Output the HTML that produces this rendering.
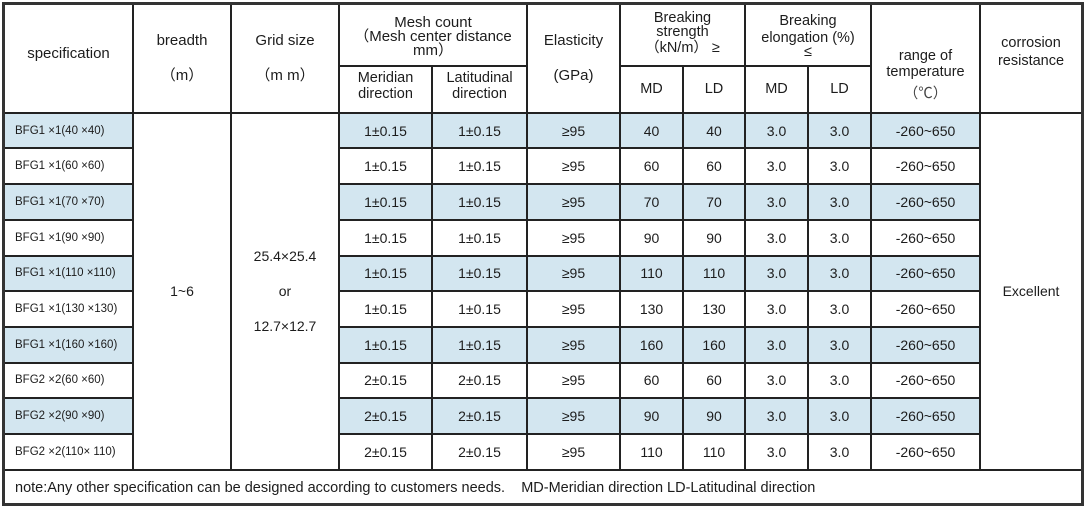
<!DOCTYPE html>
<html><head><meta charset="utf-8">
<style>
body{margin:0;width:1088px;height:510px;background:#fff;position:relative;overflow:hidden;font-family:"Liberation Sans","Noto Sans CJK SC",Arial,sans-serif;color:#1c1c1c}
.v{position:absolute;width:2px;background:#222}
.h{position:absolute;height:2px;background:#222}
.b{position:absolute;background:#d3e6f0}
.t{position:absolute;text-align:center;white-space:nowrap;height:20px;line-height:20px;font-size:15px}
.s{font-size:14.5px}
.r{position:absolute;left:0;width:1088px}
.r span{position:absolute;top:0;text-align:center;white-space:nowrap;font-size:14px}
.r span.sp{left:15px;text-align:left;font-size:11.5px}
</style></head><body>

<!-- blue fills -->
<div class="b" style="left:4px;top:113px;width:129px;height:35px"></div>
<div class="b" style="left:339px;top:113px;width:641px;height:35px"></div>
<div class="b" style="left:4px;top:184px;width:129px;height:36px"></div>
<div class="b" style="left:339px;top:184px;width:641px;height:36px"></div>
<div class="b" style="left:4px;top:256px;width:129px;height:35px"></div>
<div class="b" style="left:339px;top:256px;width:641px;height:35px"></div>
<div class="b" style="left:4px;top:327px;width:129px;height:36px"></div>
<div class="b" style="left:339px;top:327px;width:641px;height:36px"></div>
<div class="b" style="left:4px;top:398px;width:129px;height:36px"></div>
<div class="b" style="left:339px;top:398px;width:641px;height:36px"></div>

<!-- vertical lines -->
<div class="v" style="left:132px;top:4px;height:467px"></div>
<div class="v" style="left:230px;top:4px;height:467px"></div>
<div class="v" style="left:338px;top:4px;height:467px"></div>
<div class="v" style="left:431px;top:66px;height:405px"></div>
<div class="v" style="left:526px;top:4px;height:467px"></div>
<div class="v" style="left:619px;top:4px;height:467px"></div>
<div class="v" style="left:682px;top:66px;height:405px"></div>
<div class="v" style="left:744px;top:4px;height:467px"></div>
<div class="v" style="left:807px;top:66px;height:405px"></div>
<div class="v" style="left:870px;top:4px;height:467px"></div>
<div class="v" style="left:979px;top:4px;height:467px"></div>

<!-- horizontal lines -->
<div class="h" style="left:339px;top:65px;width:188px"></div>
<div class="h" style="left:620px;top:65px;width:251px"></div>
<div class="h" style="left:4px;top:112px;width:1078px"></div>
<div class="h" style="left:4px;top:469px;width:1078px"></div>

<div class="h" style="left:4px;top:147px;width:129px"></div><div class="h" style="left:339px;top:147px;width:641px"></div>
<div class="h" style="left:4px;top:183px;width:129px"></div><div class="h" style="left:339px;top:183px;width:641px"></div>
<div class="h" style="left:4px;top:219px;width:129px"></div><div class="h" style="left:339px;top:219px;width:641px"></div>
<div class="h" style="left:4px;top:255px;width:129px"></div><div class="h" style="left:339px;top:255px;width:641px"></div>
<div class="h" style="left:4px;top:290px;width:129px"></div><div class="h" style="left:339px;top:290px;width:641px"></div>
<div class="h" style="left:4px;top:326px;width:129px"></div><div class="h" style="left:339px;top:326px;width:641px"></div>
<div class="h" style="left:4px;top:362px;width:129px"></div><div class="h" style="left:339px;top:362px;width:641px"></div>
<div class="h" style="left:4px;top:397px;width:129px"></div><div class="h" style="left:339px;top:397px;width:641px"></div>
<div class="h" style="left:4px;top:433px;width:129px"></div><div class="h" style="left:339px;top:433px;width:641px"></div>

<!-- outer border -->
<div style="position:absolute;left:2px;top:2px;width:1082px;height:504px;box-sizing:border-box;border:3px solid #333"></div>

<!-- header text -->
<div class="t" style="left:4px;width:129px;top:44px">specification</div>
<div class="t" style="left:133px;width:98px;top:31px">breadth</div>
<div class="t" style="left:133px;width:98px;top:66px">（m）</div>
<div class="t" style="left:231px;width:108px;top:31px">Grid size</div>
<div class="t" style="left:231px;width:108px;top:66px">（m m）</div>
<div class="t" style="left:339px;width:188px;top:13px">Mesh count</div>
<div class="t" style="left:339px;width:188px;top:27px">（Mesh center distance</div>
<div class="t" style="left:339px;width:188px;top:41px">mm）</div>
<div class="t s" style="left:339px;width:93px;top:68px">Meridian</div>
<div class="t s" style="left:339px;width:93px;top:84px">direction</div>
<div class="t s" style="left:432px;width:95px;top:68px">Latitudinal</div>
<div class="t s" style="left:432px;width:95px;top:84px">direction</div>
<div class="t" style="left:527px;width:93px;top:31px">Elasticity</div>
<div class="t" style="left:527px;width:93px;top:66px">(GPa)</div>
<div class="t s" style="left:620px;width:125px;top:8px">Breaking</div>
<div class="t s" style="left:620px;width:125px;top:22px">strength</div>
<div class="t s" style="left:620px;width:125px;top:38px">（kN/m） ≥</div>
<div class="t s" style="left:620px;width:63px;top:79px">MD</div>
<div class="t s" style="left:683px;width:62px;top:79px">LD</div>
<div class="t s" style="left:745px;width:126px;top:11px">Breaking</div>
<div class="t s" style="left:745px;width:126px;top:28px">elongation (%)</div>
<div class="t s" style="left:745px;width:126px;top:42px">≤</div>
<div class="t s" style="left:745px;width:63px;top:79px">MD</div>
<div class="t s" style="left:808px;width:63px;top:79px">LD</div>
<div class="t s" style="left:871px;width:109px;top:46px">range of</div>
<div class="t s" style="left:871px;width:109px;top:62px">temperature</div>
<div class="t s" style="left:871px;width:109px;top:84px;color:#444">（℃）</div>
<div class="t s" style="left:980px;width:102px;top:33px">corrosion</div>
<div class="t s" style="left:980px;width:102px;top:51px">resistance</div>

<!-- merged cells -->
<div class="t" style="left:133px;width:98px;top:281px;font-size:14px">1~6</div>
<div class="t" style="left:231px;width:108px;top:246px;font-size:14px">25.4×25.4</div>
<div class="t" style="left:231px;width:108px;top:281px;font-size:14px">or</div>
<div class="t" style="left:231px;width:108px;top:316px;font-size:14px">12.7×12.7</div>
<div class="t" style="left:980px;width:102px;top:281px;font-size:14px">Excellent</div>

<!-- rows -->
<div class="r" style="top:113px;height:35px;line-height:36px"><span class="sp">BFG1 ×1(40 ×40)</span><span style="left:339px;width:93px">1±0.15</span><span style="left:432px;width:95px">1±0.15</span><span style="left:527px;width:93px">≥95</span><span style="left:620px;width:63px">40</span><span style="left:683px;width:62px">40</span><span style="left:745px;width:63px">3.0</span><span style="left:808px;width:63px">3.0</span><span style="left:871px;width:109px">-260~650</span></div>
<div class="r" style="top:148px;height:36px;line-height:36px"><span class="sp">BFG1 ×1(60 ×60)</span><span style="left:339px;width:93px">1±0.15</span><span style="left:432px;width:95px">1±0.15</span><span style="left:527px;width:93px">≥95</span><span style="left:620px;width:63px">60</span><span style="left:683px;width:62px">60</span><span style="left:745px;width:63px">3.0</span><span style="left:808px;width:63px">3.0</span><span style="left:871px;width:109px">-260~650</span></div>
<div class="r" style="top:184px;height:36px;line-height:36px"><span class="sp">BFG1 ×1(70 ×70)</span><span style="left:339px;width:93px">1±0.15</span><span style="left:432px;width:95px">1±0.15</span><span style="left:527px;width:93px">≥95</span><span style="left:620px;width:63px">70</span><span style="left:683px;width:62px">70</span><span style="left:745px;width:63px">3.0</span><span style="left:808px;width:63px">3.0</span><span style="left:871px;width:109px">-260~650</span></div>
<div class="r" style="top:220px;height:36px;line-height:36px"><span class="sp">BFG1 ×1(90 ×90)</span><span style="left:339px;width:93px">1±0.15</span><span style="left:432px;width:95px">1±0.15</span><span style="left:527px;width:93px">≥95</span><span style="left:620px;width:63px">90</span><span style="left:683px;width:62px">90</span><span style="left:745px;width:63px">3.0</span><span style="left:808px;width:63px">3.0</span><span style="left:871px;width:109px">-260~650</span></div>
<div class="r" style="top:256px;height:35px;line-height:35px"><span class="sp">BFG1 ×1(110 ×110)</span><span style="left:339px;width:93px">1±0.15</span><span style="left:432px;width:95px">1±0.15</span><span style="left:527px;width:93px">≥95</span><span style="left:620px;width:63px">110</span><span style="left:683px;width:62px">110</span><span style="left:745px;width:63px">3.0</span><span style="left:808px;width:63px">3.0</span><span style="left:871px;width:109px">-260~650</span></div>
<div class="r" style="top:291px;height:36px;line-height:36px"><span class="sp">BFG1 ×1(130 ×130)</span><span style="left:339px;width:93px">1±0.15</span><span style="left:432px;width:95px">1±0.15</span><span style="left:527px;width:93px">≥95</span><span style="left:620px;width:63px">130</span><span style="left:683px;width:62px">130</span><span style="left:745px;width:63px">3.0</span><span style="left:808px;width:63px">3.0</span><span style="left:871px;width:109px">-260~650</span></div>
<div class="r" style="top:327px;height:36px;line-height:36px"><span class="sp">BFG1 ×1(160 ×160)</span><span style="left:339px;width:93px">1±0.15</span><span style="left:432px;width:95px">1±0.15</span><span style="left:527px;width:93px">≥95</span><span style="left:620px;width:63px">160</span><span style="left:683px;width:62px">160</span><span style="left:745px;width:63px">3.0</span><span style="left:808px;width:63px">3.0</span><span style="left:871px;width:109px">-260~650</span></div>
<div class="r" style="top:363px;height:35px;line-height:35px"><span class="sp">BFG2 ×2(60 ×60)</span><span style="left:339px;width:93px">2±0.15</span><span style="left:432px;width:95px">2±0.15</span><span style="left:527px;width:93px">≥95</span><span style="left:620px;width:63px">60</span><span style="left:683px;width:62px">60</span><span style="left:745px;width:63px">3.0</span><span style="left:808px;width:63px">3.0</span><span style="left:871px;width:109px">-260~650</span></div>
<div class="r" style="top:398px;height:36px;line-height:36px"><span class="sp">BFG2 ×2(90 ×90)</span><span style="left:339px;width:93px">2±0.15</span><span style="left:432px;width:95px">2±0.15</span><span style="left:527px;width:93px">≥95</span><span style="left:620px;width:63px">90</span><span style="left:683px;width:62px">90</span><span style="left:745px;width:63px">3.0</span><span style="left:808px;width:63px">3.0</span><span style="left:871px;width:109px">-260~650</span></div>
<div class="r" style="top:434px;height:36px;line-height:36px"><span class="sp">BFG2 ×2(110× 110)</span><span style="left:339px;width:93px">2±0.15</span><span style="left:432px;width:95px">2±0.15</span><span style="left:527px;width:93px">≥95</span><span style="left:620px;width:63px">110</span><span style="left:683px;width:62px">110</span><span style="left:745px;width:63px">3.0</span><span style="left:808px;width:63px">3.0</span><span style="left:871px;width:109px">-260~650</span></div>

<!-- note -->
<div class="t" style="left:15px;top:478px;text-align:left;font-size:14.5px">note:Any other specification can be designed according to customers needs.&nbsp;&nbsp;&nbsp; MD-Meridian direction LD-Latitudinal direction</div>

</body></html>
